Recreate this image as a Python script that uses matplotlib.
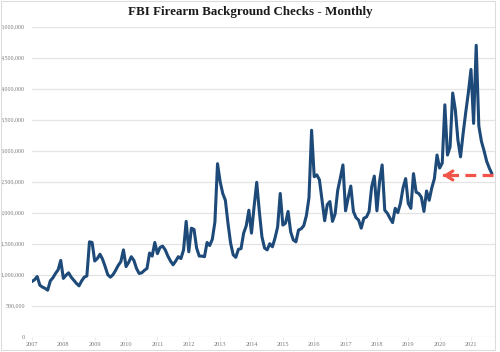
import numpy as np
import matplotlib
matplotlib.use("Agg")
import matplotlib.pyplot as plt
from matplotlib.patches import Rectangle
from matplotlib.ticker import FuncFormatter

# monthly checks, millions, Jan 2007 .. Sep 2021
checks = [
    # 2007
    0.89, 0.92, 0.97, 0.83, 0.80, 0.78, 0.75, 0.90, 0.95, 1.02, 1.08, 1.23,
    # 2008
    0.94, 0.99, 1.03, 0.96, 0.91, 0.86, 0.82, 0.90, 0.96, 0.98, 1.53, 1.52,
    # 2009
    1.22, 1.26, 1.33, 1.25, 1.13, 1.00, 0.96, 1.00, 1.07, 1.15, 1.21, 1.40,
    # 2010
    1.13, 1.20, 1.29, 1.23, 1.10, 1.02, 1.03, 1.07, 1.10, 1.35, 1.30, 1.52,
    # 2011
    1.34, 1.44, 1.46, 1.40, 1.30, 1.22, 1.16, 1.22, 1.29, 1.26, 1.40, 1.86,
    # 2012
    1.37, 1.75, 1.73, 1.43, 1.30, 1.30, 1.29, 1.52, 1.47, 1.57, 1.85, 2.79,
    # 2013
    2.50, 2.31, 2.20, 1.83, 1.51, 1.32, 1.28, 1.41, 1.42, 1.67, 1.79, 2.04,
    # 2014
    1.67, 2.10, 2.49, 2.02, 1.61, 1.43, 1.40, 1.50, 1.45, 1.59, 1.77, 2.31,
    # 2015
    1.80, 1.83, 2.02, 1.69, 1.56, 1.53, 1.72, 1.74, 1.79, 1.95, 2.24, 3.33,
    # 2016
    2.58, 2.61, 2.53, 2.20, 1.87, 2.13, 2.18, 1.86, 1.98, 2.36, 2.56, 2.77,
    # 2017
    2.03, 2.24, 2.43, 2.02, 1.92, 1.88, 1.75, 1.91, 1.93, 2.02, 2.42, 2.59,
    # 2018
    2.03, 2.50, 2.77, 2.04, 1.99, 1.91, 1.84, 2.07, 2.00, 2.15, 2.40, 2.55,
    # 2019
    2.15, 2.07, 2.63, 2.33, 2.31, 2.25, 2.02, 2.35, 2.20, 2.40, 2.55, 2.93,
    # 2020
    2.72, 2.80, 3.74, 2.93, 3.06, 3.93, 3.66, 3.17, 2.90, 3.28, 3.62, 3.94,
    # 2021
    4.31, 3.44, 4.70, 3.40, 3.15, 3.00, 2.83, 2.72, 2.63,
]
years = list(range(2007, 2022))
y_ticks = [0, 500000, 1000000, 1500000, 2000000, 2500000, 3000000,
           3500000, 4000000, 4500000, 5000000]

arrow_level = 2.6e6
arrow_from = 176.5
arrow_to = 156.2

values = np.array(checks) * 1e6
months = np.arange(len(values))

plt.rcParams['font.family'] = ['Liberation Serif', 'DejaVu Serif']

fig = plt.figure(figsize=(5.0, 3.52), dpi=100)
ax = fig.add_axes([0.064, 0.0435, 0.925, 0.8807])

grid_col = '#e4e4e4'
for v in y_ticks:
    ax.axhline(v, color=grid_col, lw=0.9, zorder=0)

ax.plot(months, values, color='#1d4a78', lw=2.2, solid_joinstyle='round',
        solid_capstyle='round', zorder=3)

# red dashed pointer
ax.plot([arrow_from, arrow_to + 1.2], [arrow_level, arrow_level],
        color='#f25449', lw=2.3, dashes=(3.4, 2.0), zorder=4)
ax.annotate('', xy=(arrow_to, arrow_level), xytext=(arrow_to + 3.0, arrow_level),
            arrowprops=dict(arrowstyle='->,head_length=0.5,head_width=0.32',
                            color='#f25449', lw=2.3), zorder=4)

ax.set_xlim(0, 177)
ax.set_ylim(0, 5000000)
ax.set_xticks([(y - 2007) * 12 for y in years])
ax.set_xticklabels([str(y) for y in years])
ax.set_yticks(y_ticks)
ax.yaxis.set_major_formatter(FuncFormatter(lambda v, p: '{:,.0f}'.format(v)))

for s in ax.spines.values():
    s.set_visible(False)
ax.tick_params(axis='y', length=0, pad=5, labelsize=4.3, labelcolor='#7a7a7a')
ax.tick_params(axis='x', length=2, width=0.6, color=grid_col, pad=2,
               labelsize=4.5, labelcolor='#7a7a7a')
ax.patch.set_alpha(0)

fig.text(0.5, 0.965, 'FBI Firearm Background Checks - Monthly', ha='center',
         va='center', fontsize=9.4, fontweight='bold', color='#1a1a1a')

fig.patches.append(Rectangle((0.002, 0.006), 0.988, 0.99, transform=fig.transFigure,
                             fill=False, edgecolor='#dcdcdc', lw=0.8))

fig.savefig('out.png', dpi=100)
